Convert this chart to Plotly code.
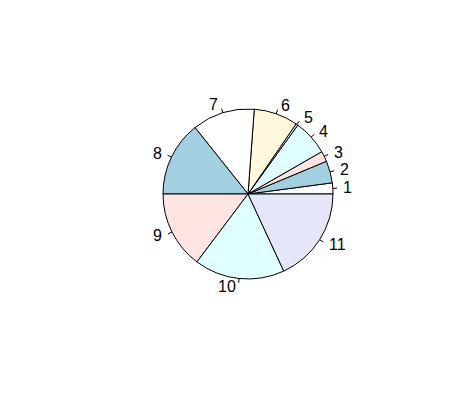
import numpy as np
import plotly.graph_objects as go

labels = ["1", "2", "3", "4", "5", "6", "7", "8", "9", "10", "11"]
values = [2.1, 4.2, 2.0, 6.75, 0.4, 8.4, 11.9, 14.3, 14.75, 17.2, 18.1]
colors = ["white", "#a2d0e1", "mistyrose", "lightcyan", "lavender", "cornsilk",
          "white", "#a2d0e1", "mistyrose", "lightcyan", "lavender"]

W, H = 458, 406
off = 8  # page body margin
cx, cy, r = 248 - off, 194 - off, 85  # pixel centre and radius within figure

vals = np.array(values)
first_deg = 360 * vals[0] / vals.sum()

fig = go.Figure(go.Pie(
    labels=labels, values=values, sort=False, direction="counterclockwise",
    rotation=90 - first_deg, textinfo="none", hoverinfo="label+value",
    marker=dict(colors=colors, line=dict(color="black", width=1)),
    domain=dict(x=[(cx - r) / W, (cx + r) / W], y=[1 - (cy + r) / H, 1 - (cy - r) / H]),
    showlegend=False,
))

cum = np.cumsum(vals) - vals / 2
mids = cum / vals.sum() * 2 * np.pi
shapes, annos = [], []
for lab, a in zip(labels, mids):
    c, s = np.cos(a), np.sin(a)
    x0, y0 = cx + r * c, cy - r * s
    x1, y1 = cx + 1.05 * r * c, cy - 1.05 * r * s
    xt, yt = cx + 1.1 * r * c, cy - 1.1 * r * s
    shapes.append(dict(type="line", xref="paper", yref="paper",
                       x0=x0 / W, y0=1 - y0 / H, x1=x1 / W, y1=1 - y1 / H,
                       line=dict(color="black", width=1)))
    annos.append(dict(text=lab, xref="paper", yref="paper", x=xt / W, y=1 - yt / H,
                      xanchor="right" if c < 0 else "left", yanchor="middle",
                      showarrow=False, font=dict(size=16, color="black",
                                                 family="Liberation Sans, Arial")))

fig.update_layout(width=W, height=H, margin=dict(l=0, r=0, t=0, b=0),
                  paper_bgcolor="white", plot_bgcolor="white",
                  shapes=shapes, annotations=annos)
fig.write_html("out.html")
